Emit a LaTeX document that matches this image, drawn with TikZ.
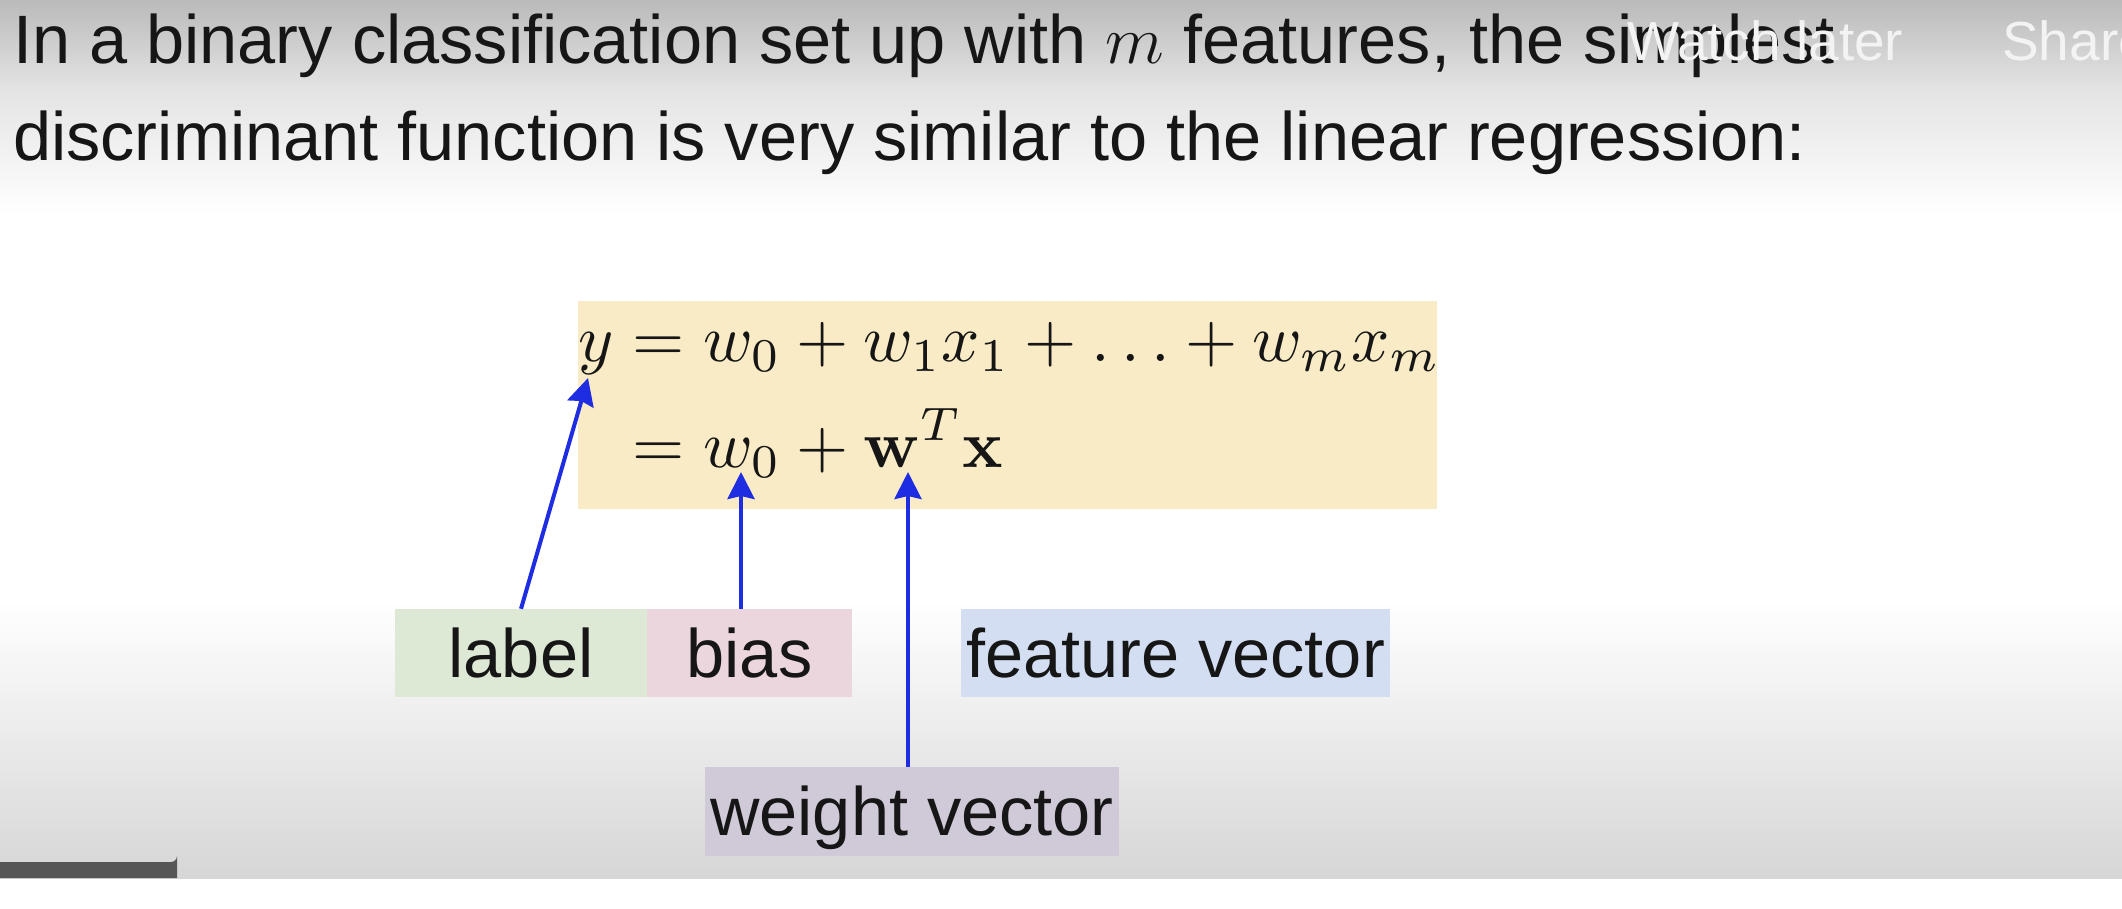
\RequirePackage{fix-cm}
\documentclass[tikz,border=0pt]{standalone}
\usepackage{amsmath}
\usepackage[no-math]{fontspec}
\newfontfamily\arial{Liberation Sans}
\usetikzlibrary{arrows.meta}
\definecolor{eqbg}{RGB}{249,235,198}
\definecolor{lblbg}{RGB}{221,232,213}
\definecolor{biasbg}{RGB}{234,214,220}
\definecolor{featbg}{RGB}{211,222,243}
\definecolor{wvecbg}{RGB}{208,202,216}
\definecolor{arrblue}{RGB}{30,45,225}
\definecolor{txt}{RGB}{22,22,22}
\definecolor{topgray}{RGB}{186,186,186}
\definecolor{midgray}{RGB}{228,228,228}
\definecolor{botgray}{RGB}{214,214,214}
\definecolor{barcol}{RGB}{86,86,86}
\definecolor{ovl}{RGB}{243,243,243}
\begin{document}
\begin{tikzpicture}[x=1pt,y=-1pt,
  tag/.style={inner sep=0pt, minimum height=88pt, text height=52pt, text depth=4pt,
    font={\arial\fontsize{68.5}{80}\selectfont}, text=txt},
  ttl/.style={anchor=base west, inner sep=0pt, font={\arial\fontsize{68.5}{90}\selectfont}, text=txt},
  arr/.style={draw=arrblue, line width=4pt, -{Stealth[length=27pt,width=27pt,inset=3pt]}}]
\useasboundingbox (0,0) rectangle (2122,908);
% background
\fill[white] (0,0) rectangle (2122,908);
\shade[top color=topgray, bottom color=midgray] (0,0) rectangle (2122,90);
\shade[top color=midgray, bottom color=white] (0,90) rectangle (2122,215);
\shade[top color=white, bottom color=botgray] (0,600) rectangle (2122,878);
\fill[barcol] (0,878) -- (0,862) -- (171,862) arc[start angle=90, end angle=0, radius=6] -- (177,878) -- cycle;
% title
\node[ttl] (t1) at (13,63) {In a binary classification set up with $m$ features, the simplest};
\node[ttl] (t2) at (13,160) {discriminant function is very similar to the linear regression:};
% overlay
\node[anchor=base west, inner sep=0pt, font={\arial\fontsize{55}{60}\selectfont}, text=ovl] (watch) at (1627,60) {Watch later};
\node[anchor=base west, inner sep=0pt, font={\arial\fontsize{55}{60}\selectfont}, text=ovl] (share) at (2002,60) {Share};
% equation
\node[fill=eqbg, anchor=north west, inner sep=0pt, minimum width=859pt, minimum height=208pt] (eqbox) at (578,301) {};
\node[anchor=base west, inner sep=0pt, scale=6.71, text=txt] (eq) at (577,361)
  {\setlength{\jot}{2.4pt}$\begin{aligned}[t] y &= w_0 + w_1x_1 + \ldots + w_mx_m\\ &= w_0 + \mathbf{w}^T\mathbf{x}\end{aligned}$};
% tags
\node[tag, fill=lblbg, minimum width=252pt] (lbl) at (521,653) {label};
\node[tag, fill=biasbg, minimum width=205pt] (bias) at (749.5,653) {bias};
\node[tag, fill=featbg, minimum width=429pt] (feat) at (1175.5,653) {feature vector};
\node[tag, fill=wvecbg, minimum width=414pt, minimum height=89pt] (wvec) at (912,811.5) {weight vector};
% arrows
\coordinate (ytip) at (588,378);
\coordinate (btip) at (741,472);
\coordinate (wtip) at (908,472);
\draw[arr] (lbl.north) -- (ytip);
\draw[arr] (bias.north -| btip) -- (btip);
\draw[arr] (wvec.north -| wtip) -- (wtip);
\end{tikzpicture}
\end{document}
